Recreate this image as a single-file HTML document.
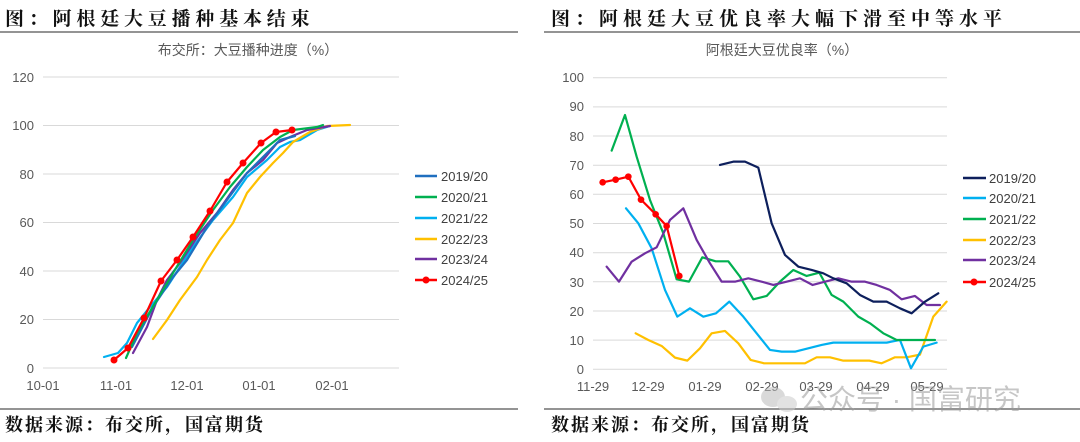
<!DOCTYPE html>
<html><head><meta charset="utf-8"><style>
body{margin:0;background:#fff;width:1080px;height:442px;overflow:hidden}
svg{display:block}
.t{font-family:"Liberation Serif","Noto Serif CJK SC",serif;font-weight:bold;font-size:19px;letter-spacing:4.8px;fill:#111}
.st{font-family:"Liberation Sans","Noto Sans CJK SC",sans-serif;font-size:14px;fill:#595959}
.tk{font-family:"Liberation Sans","Noto Sans CJK SC",sans-serif;font-size:13px;fill:#595959}
.lg{font-family:"Liberation Sans",sans-serif;font-size:13px;fill:#404040}
.g{stroke:#d9d9d9;stroke-width:1}
.s{fill:none;stroke-width:2.2;stroke-linejoin:round;stroke-linecap:round}
</style></head><body>
<svg width="1080" height="442" viewBox="0 0 1080 442">
<text class="t" x="5" y="25">图：阿根廷大豆播种基本结束</text>
<text class="t" x="551" y="25" style="letter-spacing:5px">图：阿根廷大豆优良率大幅下滑至中等水平</text>
<line x1="0" y1="32" x2="518" y2="32" stroke="#555" stroke-width="1.2"/>
<line x1="544" y1="32" x2="1080" y2="32" stroke="#555" stroke-width="1.2"/>
<line x1="0" y1="409" x2="518" y2="409" stroke="#555" stroke-width="1.2"/>
<line x1="544" y1="409" x2="1080" y2="409" stroke="#555" stroke-width="1.2"/>
<text class="t" x="5" y="431" style="font-size:18px;letter-spacing:2px">数据来源：布交所，国富期货</text>
<text class="t" x="551" y="431" style="font-size:18px;letter-spacing:2px">数据来源：布交所，国富期货</text>

<!-- left chart -->
<text class="st" x="248" y="55" text-anchor="middle">布交所：大豆播种进度（%）</text>
<g class="g">
<line x1="43" y1="77" x2="399" y2="77"/><line x1="43" y1="125.5" x2="399" y2="125.5"/><line x1="43" y1="174" x2="399" y2="174"/><line x1="43" y1="222.5" x2="399" y2="222.5"/><line x1="43" y1="271" x2="399" y2="271"/><line x1="43" y1="319.5" x2="399" y2="319.5"/><line x1="43" y1="368" x2="399" y2="368"/>
</g>
<g class="tk" text-anchor="end">
<text x="34" y="82">120</text><text x="34" y="130">100</text><text x="34" y="179">80</text><text x="34" y="227">60</text><text x="34" y="276">40</text><text x="34" y="324">20</text><text x="34" y="373">0</text>
</g>
<g class="tk" text-anchor="middle">
<text x="43" y="390">10-01</text><text x="116" y="390">11-01</text><text x="187" y="390">12-01</text><text x="259" y="390">01-01</text><text x="332" y="390">02-01</text>
</g>
<polyline class="s" stroke="#00b0f0" points="104,357 118,353 127,343 137,323 150,307 167,287 180,267 193,247 213,220 233,197 247,177 267,160 280,147 290,142 300,140 317,130 330,126"/>
<polyline class="s" stroke="#ffc000" points="153,339 167,320 180,300 197,277 207,260 220,240 233,223 247,193 260,177 273,163 283,153 293,142 310,132 327,126 350,125"/>
<polyline class="s" stroke="#7030a0" points="133,353 147,327 157,300 167,280 180,263 200,233 217,213 233,190 247,173 263,160 277,143 290,137 307,130 330,126"/>
<polyline class="s" stroke="#1f6fbf" points="132,347 153,307 173,277 187,260 207,227 227,200 247,173 267,153 280,140 295,136"/>
<polyline class="s" stroke="#00b050" points="126,358 137,333 157,300 173,273 193,240 213,210 230,187 247,167 263,150 280,137 293,130 317,127 323,125"/>
<polyline class="s" stroke="#ff0000" points="114,360 128,348 144,318 161,281 177,260 193,237 210,211 227,182 243,163 261,143 276,132 292,130"/>
<g fill="#ff0000"><circle cx="114" cy="360" r="3.5"/><circle cx="128" cy="348" r="3.5"/><circle cx="144" cy="318" r="3.5"/><circle cx="161" cy="281" r="3.5"/><circle cx="177" cy="260" r="3.5"/><circle cx="193" cy="237" r="3.5"/><circle cx="210" cy="211" r="3.5"/><circle cx="227" cy="182" r="3.5"/><circle cx="243" cy="163" r="3.5"/><circle cx="261" cy="143" r="3.5"/><circle cx="276" cy="132" r="3.5"/><circle cx="292" cy="130" r="3.5"/></g>
<g stroke-width="2.5">
<line x1="415" y1="176" x2="437" y2="176" stroke="#1f6fbf"/>
<line x1="415" y1="197" x2="437" y2="197" stroke="#00b050"/>
<line x1="415" y1="218" x2="437" y2="218" stroke="#00b0f0"/>
<line x1="415" y1="239" x2="437" y2="239" stroke="#ffc000"/>
<line x1="415" y1="259" x2="437" y2="259" stroke="#7030a0"/>
<line x1="415" y1="280" x2="437" y2="280" stroke="#ff0000"/>
</g><circle cx="426" cy="280" r="3.5" fill="#ff0000"/>
<g class="lg"><text x="441" y="181">2019/20</text><text x="441" y="202">2020/21</text><text x="441" y="223">2021/22</text><text x="441" y="244">2022/23</text><text x="441" y="264">2023/24</text><text x="441" y="285">2024/25</text></g>

<!-- right chart -->
<text class="st" x="782" y="55" text-anchor="middle">阿根廷大豆优良率（%）</text>
<g class="g">
<line x1="593" y1="77.7" x2="947" y2="77.7"/><line x1="593" y1="106.9" x2="947" y2="106.9"/><line x1="593" y1="136" x2="947" y2="136"/><line x1="593" y1="165.2" x2="947" y2="165.2"/><line x1="593" y1="194.3" x2="947" y2="194.3"/><line x1="593" y1="223.5" x2="947" y2="223.5"/><line x1="593" y1="252.7" x2="947" y2="252.7"/><line x1="593" y1="281.8" x2="947" y2="281.8"/><line x1="593" y1="311" x2="947" y2="311"/><line x1="593" y1="340.1" x2="947" y2="340.1"/><line x1="593" y1="369.3" x2="947" y2="369.3"/>
</g>
<g class="tk" text-anchor="end">
<text x="584" y="82">100</text><text x="584" y="111">90</text><text x="584" y="141">80</text><text x="584" y="170">70</text><text x="584" y="199">60</text><text x="584" y="228">50</text><text x="584" y="257">40</text><text x="584" y="287">30</text><text x="584" y="316">20</text><text x="584" y="345">10</text><text x="584" y="374">0</text>
</g>
<g class="tk" text-anchor="middle">
<text x="593" y="391">11-29</text><text x="648" y="391">12-29</text><text x="705" y="391">01-29</text><text x="762" y="391">02-29</text><text x="816" y="391">03-29</text><text x="873" y="391">04-29</text><text x="927" y="391">05-29</text>
</g>
<g transform="translate(540,0) scale(0.3333)">
<polyline class="s" style="stroke-width:6.6" stroke="#ffc000" points="287,1000 325,1020 365,1038 405,1073 442,1082 480,1045 515,1000 555,993 595,1030 632,1080 672,1090 710,1090 750,1090 795,1090 830,1072 870,1072 910,1082 950,1082 988,1082 1025,1090 1065,1072 1100,1072 1140,1064 1180,950 1220,905"/>
<polyline class="s" style="stroke-width:6.6" stroke="#00b0f0" points="258,625 295,670 335,745 375,870 412,950 450,925 490,950 528,940 568,905 610,950 650,1000 690,1050 725,1055 765,1055 805,1045 845,1035 880,1028 920,1028 960,1028 1000,1028 1040,1028 1080,1020 1113,1105 1150,1040 1190,1028"/>
<polyline class="s" style="stroke-width:6.6" stroke="#00b050" points="215,452 255,345 290,470 330,600 370,700 410,838 447,845 487,772 527,784 565,784 600,830 640,898 680,888 720,845 760,810 800,828 838,818 875,885 910,905 955,950 990,970 1030,1000 1070,1020 1110,1020 1150,1020 1185,1020"/>
<polyline class="s" style="stroke-width:6.6" stroke="#7030a0" points="200,800 237,845 275,785 315,760 350,742 390,660 430,625 470,720 510,790 545,845 585,845 625,835 665,845 700,855 740,845 780,835 818,855 855,845 895,835 935,845 975,845 1010,855 1050,870 1085,898 1125,888 1160,915 1200,915"/>
<polyline class="s" style="stroke-width:6.6" stroke="#0d1f5c" points="540,495 580,485 615,485 655,503 695,670 735,765 775,800 815,810 850,820 880,835 920,850 960,885 1000,905 1040,905 1080,925 1115,940 1155,905 1195,880"/>
<polyline class="s" style="stroke-width:6.6" stroke="#ff0000" points="188,547 227,539 265,530 303,599 347,643 380,678 418,828"/>
<g fill="#ff0000"><circle cx="188" cy="547" r="10"/><circle cx="227" cy="539" r="10"/><circle cx="265" cy="530" r="10"/><circle cx="303" cy="599" r="10"/><circle cx="347" cy="643" r="10"/><circle cx="380" cy="678" r="10"/><circle cx="418" cy="828" r="10"/></g>
</g>
<g stroke-width="2.5">
<line x1="963" y1="178" x2="986" y2="178" stroke="#0d1f5c"/>
<line x1="963" y1="198" x2="986" y2="198" stroke="#00b0f0"/>
<line x1="963" y1="219" x2="986" y2="219" stroke="#00b050"/>
<line x1="963" y1="240" x2="986" y2="240" stroke="#ffc000"/>
<line x1="963" y1="260" x2="986" y2="260" stroke="#7030a0"/>
<line x1="963" y1="282" x2="986" y2="282" stroke="#ff0000"/>
</g><circle cx="974" cy="282" r="3.5" fill="#ff0000"/>
<g class="lg"><text x="989" y="183">2019/20</text><text x="989" y="203">2020/21</text><text x="989" y="224">2021/22</text><text x="989" y="245">2022/23</text><text x="989" y="265">2023/24</text><text x="989" y="287">2024/25</text></g>

<!-- watermark -->
<g opacity="0.55">
<ellipse cx="773" cy="397" rx="12" ry="10" fill="#bbb"/><ellipse cx="787" cy="404" rx="10" ry="8" fill="#ccc"/>
<text x="800" y="409" font-family="'Liberation Sans','Noto Sans CJK SC',sans-serif" font-size="28" fill="#999">公众号 · 国富研究</text>
</g>
</svg>
</body></html>
